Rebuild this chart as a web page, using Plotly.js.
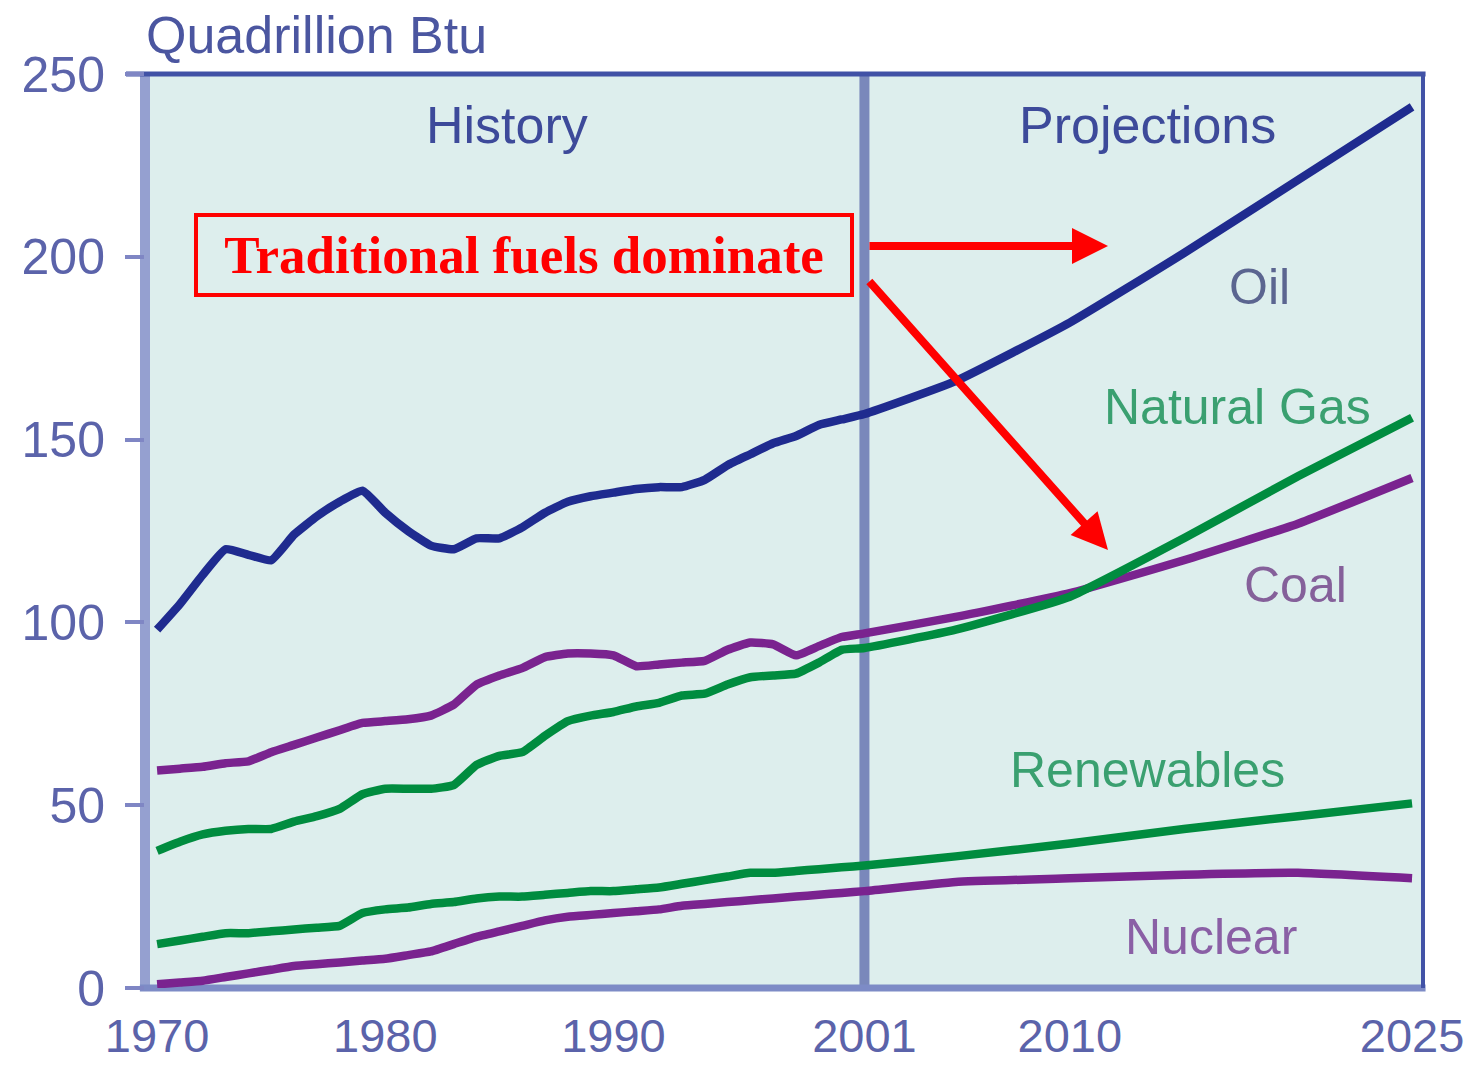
<!DOCTYPE html>
<html>
<head>
<meta charset="utf-8">
<script src="https://cdn.plot.ly/plotly-3.0.1.min.js"></script>
<style>
  html, body { margin: 0; padding: 0; background: #ffffff; }
  #chart { width: 1478px; height: 1069px; }
</style>
</head>
<body>
<div id="chart"></div>
<script>
// ---------- data (Quadrillion Btu) ----------
const yearsHist = [1970,1971,1972,1973,1974,1975,1976,1977,1978,1979,
                   1980,1981,1982,1983,1984,1985,1986,1987,1988,1989,
                   1990,1991,1992,1993,1994,1995,1996,1997,1998,1999,
                   2000,2001];
const yearsProj = [2005, 2010, 2015, 2020, 2025];

const oilHist = [98,105,113,120,118.5,117,124,129,133,136,
                 130,125,121,120,123,123,126,130,133,134.5,
                 135.5,136.5,137,137,139,143,146,149,151,154,
                 155.5,157];
const oilProj = [166, 182, 201, 221, 241];

const gasHist = [37.5,40,42,43,43.5,43.5,45.5,47,49,53,
                 54.5,54.5,54.5,55.5,61,63.5,64.5,69,73,74.5,
                 75.5,77,78,80,80.5,83,85,85.5,86,89,
                 92.5,93];
const gasProj = [98, 107, 123, 140, 156];

const coalHist = [59.5,60,60.5,61.5,62,64.5,66.5,68.5,70.5,72.5,
                  73,73.5,74.5,77.5,83,85.5,87.5,90.5,91.5,91.5,
                  91,88,88.5,89,89.5,92.5,94.5,94,91,93.5,
                  96,97];
const coalProj = [101.5, 108, 117, 127, 139.5];

const renewHist = [12,13,14,15,15,15.5,16,16.5,17,20.5,
                   21.5,22,23,23.5,24.5,25,25,25.5,26,26.5,
                   26.5,27,27.5,28.5,29.5,30.5,31.5,31.5,32,32.5,
                   33,33.5];
const renewProj = [36, 39.5, 43.5, 47, 50.5];

const nuclearHist = [1,1.5,2,3,4,5,6,6.5,7,7.5,
                     8,9,10,12,14,15.5,17,18.5,19.5,20,
                     20.5,21,21.5,22.5,23,23.5,24,24.5,25,25.5,
                     26,26.5];
const nuclearProj = [29, 30, 31, 31.5, 30];

const xTickVals = [1970, 1980, 1990, 2001, 2010, 2025];
const xTickText = ['1970', '1980', '1990', '2001', '2010', '2025'];
const yTickVals = [0, 50, 100, 150, 200, 250];
const yTickText = ['0', '50', '100', '150', '200', '250'];
const splitYear = 2001;

// ---------- styling ----------
const OIL = '#1f2b8f';
const GREEN = '#008c3f';
const PURPLE = '#7a238f';
const LW = 8.5;

const allYears = yearsHist.concat(yearsProj);
function series(hist, proj, color) {
  return {
    type: 'scatter', mode: 'lines',
    x: allYears, y: hist.concat(proj),
    line: {color: color, width: LW, shape: 'spline', smoothing: 0.4},
    hoverinfo: 'skip'
  };
}

const traces = [
  series(nuclearHist, nuclearProj, PURPLE),
  series(renewHist, renewProj, GREEN),
  series(coalHist, coalProj, PURPLE),
  series(gasHist, gasProj, GREEN),
  series(oilHist, oilProj, OIL)
];

// plot-area pixel helpers for annotation placement
const L = 145, R = 1423, T = 74, B = 988;
const px = v => (v - L) / (R - L);
const py = v => (B - v) / (B - T);

const sans = 'Liberation Sans, Arial, sans-serif';
function label(text, cx, cy, color, size) {
  return {xref: 'paper', yref: 'paper', x: px(cx), y: py(cy),
          xanchor: 'center', yanchor: 'middle', showarrow: false,
          text: text, font: {family: sans, size: size || 50, color: color}};
}

const annotations = [
  {xref: 'paper', yref: 'paper', x: px(144), y: py(35), xanchor: 'left', yanchor: 'middle',
   showarrow: false, text: 'Quadrillion Btu', font: {family: sans, size: 52, color: '#4b56a0'}},
  label('History', 507, 125, '#3d4a9a', 52),
  label('Projections', 1147, 125, '#3d4a9a', 52),
  label('Oil', 1259, 287, '#5b6590'),
  label('Natural Gas', 1237, 407, '#3aa070'),
  label('Coal', 1295, 585, '#85609a'),
  label('Renewables', 1147, 770, '#3aa070'),
  label('Nuclear', 1211, 937, '#8a5fa5'),
  {xref: 'paper', yref: 'paper', x: px(523.5), y: py(254.5), xanchor: 'center', yanchor: 'middle',
   showarrow: false, text: '<b>Traditional fuels dominate</b>',
   font: {family: 'Liberation Serif, Times New Roman, serif', size: 53, color: '#ff0000'},
   width: 652, height: 76, borderpad: 0, borderwidth: 4, bordercolor: '#ff0000'},
  {xref: 'paper', yref: 'paper', x: px(1108), y: py(246), ax: -240, ay: 0,
   text: '', showarrow: true, arrowhead: 2, arrowsize: 0.9, arrowwidth: 8, arrowcolor: '#ff0000',
   standoff: 0, startstandoff: 0},
  {xref: 'paper', yref: 'paper', x: px(1108), y: py(550), ax: -240, ay: -270,
   text: '', showarrow: true, arrowhead: 2, arrowsize: 0.9, arrowwidth: 8, arrowcolor: '#ff0000',
   standoff: 0, startstandoff: 0}
];

const shapes = [
  {type: 'line', xref: 'x', yref: 'paper', x0: splitYear, x1: splitYear, y0: 0, y1: 1,
   line: {color: '#7a88bb', width: 10}, layer: 'below'},
  {type: 'line', xref: 'paper', yref: 'paper', x0: 0, x1: 0, y0: 0, y1: 1,
   line: {color: '#95a0d0', width: 10}, layer: 'below'},
  {type: 'line', xref: 'paper', yref: 'paper', x0: -0.004, x1: 1.002, y0: 0, y1: 0,
   line: {color: '#7d8bc6', width: 7}, layer: 'below'},
  {type: 'line', xref: 'paper', yref: 'paper', x0: px(126), x1: 1.002, y0: 1, y1: 1,
   line: {color: '#4152a6', width: 5}, layer: 'below'},
  {type: 'line', xref: 'paper', yref: 'paper', x0: 1, x1: 1, y0: 0, y1: 1,
   line: {color: '#4152a6', width: 4}, layer: 'below'}
];

const layout = {
  width: 1478, height: 1069,
  margin: {l: L, r: 1478 - R, t: T, b: 1069 - B},
  paper_bgcolor: '#ffffff',
  plot_bgcolor: '#ddeeed',
  showlegend: false,
  xaxis: {
    range: [1969.47, 2025.48], tickmode: 'array', tickvals: xTickVals, ticktext: xTickText,
    showgrid: false, zeroline: false, showline: false, ticks: '',
    tickfont: {family: sans, size: 47, color: '#5b63aa'}, ticklabelstandoff: 16
  },
  yaxis: {
    range: [0, 250], tickmode: 'array', tickvals: yTickVals, ticktext: yTickText,
    showgrid: false, zeroline: false, showline: false,
    ticks: 'outside', ticklen: 19, tickwidth: 4, tickcolor: '#7f86c4',
    tickfont: {family: sans, size: 50, color: '#5b63aa'}, ticklabelstandoff: 10
  },
  shapes: shapes,
  annotations: annotations
};

Plotly.newPlot('chart', traces, layout, {staticPlot: true, displayModeBar: false});
</script>
</body>
</html>
